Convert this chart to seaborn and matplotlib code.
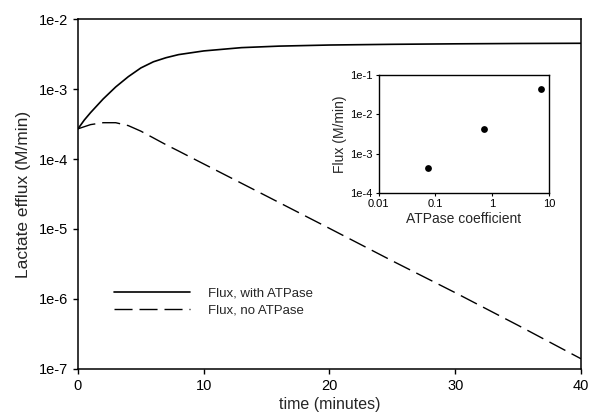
import numpy as np
import pandas as pd
import matplotlib
matplotlib.use("Agg")
import matplotlib.pyplot as plt
import matplotlib.ticker as mticker
import seaborn as sns

# main panel: lactate efflux vs time
t_atp = [0, 0.5, 1, 2, 3, 4, 5, 6, 7, 8, 10, 13, 16, 20, 25, 30, 35, 40]
flux_atp = [2.7e-4, 3.6e-4, 4.6e-4, 7.2e-4, 1.07e-3, 1.5e-3, 2.0e-3, 2.45e-3, 2.8e-3,
            3.1e-3, 3.5e-3, 3.9e-3, 4.1e-3, 4.25e-3, 4.35e-3, 4.42e-3, 4.47e-3, 4.5e-3]

t_noatp = [0, 1, 2, 3, 4, 5, 6, 7, 8, 9, 10, 15, 20, 25, 30, 35, 40]
flux_noatp = [2.7e-4, 3.1e-4, 3.3e-4, 3.3e-4, 3.0e-4, 2.5e-4, 2.0e-4, 1.6e-4, 1.3e-4,
              1.05e-4, 8.5e-5, 2.95e-5, 1.02e-5, 3.5e-6, 1.23e-6, 4.2e-7, 1.4e-7]

# inset: steady state flux vs ATPase coefficient
atpase_coef = [0.073, 0.73, 7.3]
ss_flux = [4.3e-4, 4.3e-3, 4.3e-2]

main_yticks = [1e-7, 1e-6, 1e-5, 1e-4, 1e-3, 1e-2]
inset_yticks = [1e-4, 1e-3, 1e-2, 1e-1]
inset_xticks = [0.01, 0.1, 1, 10]
inset_xlabels = ["0.01", "0.1", "1", "10"]

sns.set_style("ticks")
plt.rcParams['font.family'] = ['Liberation Sans', 'DejaVu Sans']

def sci(v, pos):
    e = int(round(np.log10(v)))
    return f"1e{e}"

fig = plt.figure(figsize=(5.89, 4.16), dpi=100)
ax = fig.add_axes([0.1324, 0.113, 0.854, 0.8413])

df_a = pd.DataFrame({"t": t_atp, "flux": flux_atp})
df_b = pd.DataFrame({"t": t_noatp, "flux": flux_noatp})
sns.lineplot(data=df_a, x="t", y="flux", ax=ax, color="black", lw=1.2,
             label="Flux, with ATPase")
sns.lineplot(data=df_b, x="t", y="flux", ax=ax, color="black", lw=1.0,
             label="Flux, no ATPase")
ax.lines[1].set_linestyle((0, (13, 5)))

ax.set_yscale("log")
ax.set_xlim(0, 40)
ax.set_ylim(1e-7, 1e-2)
ax.set_xticks([0, 10, 20, 30, 40])
ax.set_yticks(main_yticks)
ax.yaxis.set_major_formatter(mticker.FuncFormatter(sci))
ax.yaxis.set_minor_locator(mticker.NullLocator())
ax.tick_params(labelsize=10.5, length=3.5, width=1, colors="black")
ax.set_xlabel("time (minutes)", fontsize=11.5, labelpad=3)
ax.set_ylabel("Lactate efflux (M/min)", fontsize=12.5, labelpad=6)
for s in ax.spines.values():
    s.set_linewidth(1.1)
    s.set_color("black")

ax.legend(loc="upper left", bbox_to_anchor=(0.061, 0.249), borderaxespad=0,
          frameon=False, fontsize=9.5, handlelength=5.75, handletextpad=1.36,
          labelspacing=0.36)

# inset
axi = fig.add_axes([0.643, 0.536, 0.289, 0.284])
df_i = pd.DataFrame({"coef": atpase_coef, "flux": ss_flux})
sns.scatterplot(data=df_i, x="coef", y="flux", ax=axi, color="black", s=24,
                edgecolor="black", linewidth=0)
axi.set_xscale("log")
axi.set_yscale("log")
axi.set_xlim(0.01, 10)
axi.set_ylim(1e-4, 1e-1)
axi.set_xticks(inset_xticks)
axi.set_xticklabels(inset_xlabels)
axi.set_yticks(inset_yticks)
axi.yaxis.set_major_formatter(mticker.FuncFormatter(sci))
axi.xaxis.set_minor_locator(mticker.NullLocator())
axi.yaxis.set_minor_locator(mticker.NullLocator())
axi.tick_params(labelsize=8, length=2.5, width=0.8, colors="black", pad=2)
axi.set_xlabel("ATPase coefficient", fontsize=10, labelpad=2)
axi.set_ylabel("Flux (M/min)", fontsize=10, labelpad=2)
for s in axi.spines.values():
    s.set_linewidth(1.0)
    s.set_color("black")

fig.savefig("out.png", dpi=100)
